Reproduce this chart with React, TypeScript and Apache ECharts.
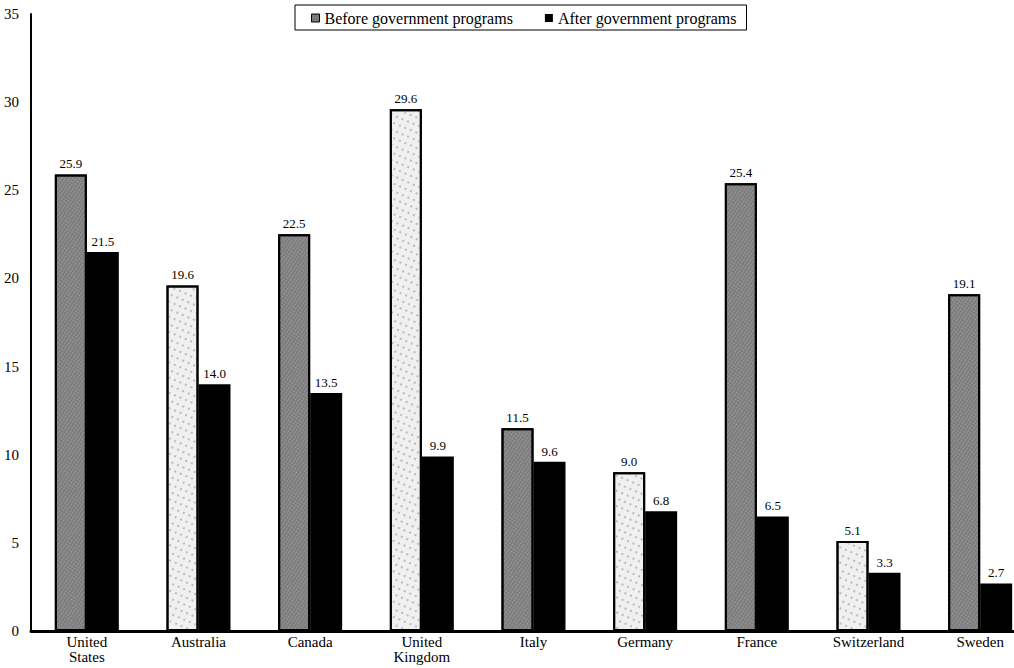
import React, { useEffect, useRef } from "react";
import * as echarts from "echarts";

const categories = ["United\nStates", "Australia", "Canada", "United\nKingdom", "Italy", "Germany", "France", "Switzerland", "Sweden"];
const beforeValues = [25.9, 19.6, 22.5, 29.6, 11.5, 9.0, 25.4, 5.1, 19.1];
const afterValues = [21.5, 14.0, 13.5, 9.9, 9.6, 6.8, 6.5, 3.3, 2.7];
const beforeShade = ["dark", "light", "dark", "light", "dark", "light", "dark", "light", "dark"];
const yTicks = [0, 5, 10, 15, 20, 25, 30, 35];

const FONT = "'Liberation Serif', 'DejaVu Serif', serif";

export default function App() {
  const ref = useRef<HTMLDivElement>(null);
  useEffect(() => {
    if (!ref.current) return;
    const chart = echarts.init(ref.current, undefined, { renderer: "svg" });
    const darkDecal = { symbol: "circle", symbolSize: 0.6, color: "rgba(255,255,255,0.35)", dashArrayX: [3, 0], dashArrayY: [2, 1], rotation: 0.6 };
    const lightDecal = { symbol: "circle", symbolSize: 0.5, color: "rgba(110,110,110,0.5)", dashArrayX: [6, 0], dashArrayY: [4, 3], rotation: 0.4 };
    chart.setOption({
      animation: false,
      backgroundColor: "#ffffff",
      textStyle: { fontFamily: FONT, color: "#000" },
      legend: {
        top: 5,
        left: 295,
        padding: [5, 10, 4, 16],
        borderColor: "#000",
        borderWidth: 1,
        itemGap: 32,
        itemWidth: 8,
        itemHeight: 8,
        icon: "rect",
        textStyle: { fontFamily: FONT, fontSize: 16, color: "#000" },
        data: [
          { name: "Before government programs", itemStyle: { color: "#7a7a7a", borderColor: "#000", borderWidth: 1 } },
          { name: "After government programs", itemStyle: { color: "#000" } },
        ],
      },
      grid: { left: 31, top: 14, bottom: 37, width: 1005, containLabel: false, outerBoundsMode: "none" },
      xAxis: {
        type: "category",
        data: categories,
        axisLine: { lineStyle: { color: "#000", width: 3 } },
        axisTick: { show: false },
        axisLabel: { fontFamily: FONT, fontSize: 15, color: "#000", margin: 3, lineHeight: 15 },
      },
      yAxis: {
        type: "value",
        min: 0,
        max: 35,
        interval: 5,
        splitLine: { show: false },
        axisTick: { show: false },
        axisLine: { show: true, lineStyle: { color: "#000", width: 2 } },
        axisLabel: {
          fontFamily: FONT,
          fontSize: 15,
          color: "#000",
          margin: 12,
          formatter: (v: number) => (yTicks.includes(v) ? String(v) : ""),
        },
      },
      series: [
        {
          name: "Before government programs",
          type: "bar",
          barWidth: 32,
          barGap: "0%",
          data: beforeValues.map((v, i) => ({
            value: v,
            itemStyle:
              beforeShade[i] === "dark"
                ? { color: "#7d7d7d", borderColor: "#000", borderWidth: 2, decal: darkDecal }
                : { color: "#f0f0f0", borderColor: "#000", borderWidth: 2, decal: lightDecal },
          })),
          label: {
            show: true,
            position: "top",
            distance: 4,
            fontFamily: FONT,
            fontSize: 13,
            color: "#000",
            formatter: (p: any) => Number(p.value).toFixed(1),
          },
        },
        {
          name: "After government programs",
          type: "bar",
          barWidth: 32,
          data: afterValues,
          itemStyle: { color: "#000" },
          label: {
            show: true,
            position: "top",
            distance: 4,
            fontFamily: FONT,
            fontSize: 13,
            color: "#000",
            formatter: (p: any) => Number(p.value).toFixed(1),
          },
        },
      ],
    });
    return () => chart.dispose();
  }, []);
  return <div ref={ref} style={{ width: 1014, height: 668, position: "absolute", left: 0, top: 0 }} />;
}
